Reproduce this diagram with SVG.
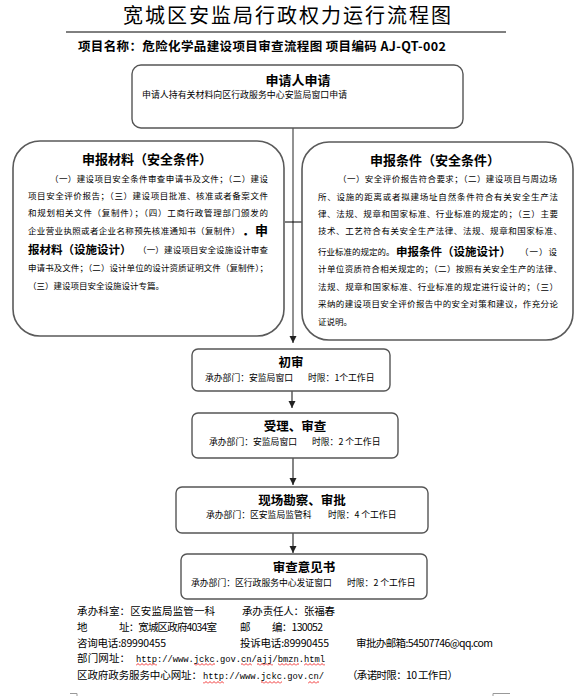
<svg xmlns="http://www.w3.org/2000/svg" width="581" height="696" viewBox="0 0 581 696">
<style>
text{font-family:"Noto Sans CJK SC","Liberation Sans",sans-serif;fill:#000}
.box{fill:#fff;stroke:#555;stroke-width:1.4}
.big{fill:#fff;stroke:#5a5a5a;stroke-width:1.6}
.t{font-size:8.5px}
.h{font-size:12.5px;font-weight:bold}
.hb{font-size:13px;font-weight:bold}
.ib{font-size:11.5px;font-weight:bold}
.s{font-size:8.8px}
.f{font-size:10.5px}
.u{font-family:"Liberation Mono",monospace;font-size:8.8px}
.arr{stroke:#333;stroke-width:1.2;fill:none;marker-end:url(#ah)}
.mark{stroke:#999;stroke-width:1;fill:none}
.wv{fill:url(#wave)}
</style>
<defs>
<marker id="ah" markerUnits="userSpaceOnUse" markerWidth="8" markerHeight="8" refX="7" refY="3.5" orient="auto">
<path d="M0,0 L7,3.5 L0,7 z" fill="#222"/>
</marker>
<pattern id="wave" patternUnits="userSpaceOnUse" width="4" height="3">
<path d="M0,2.5 L2,0.5 L4,2.5" stroke="#e00" stroke-width="0.8" fill="none"/>
</pattern>
</defs>
<rect width="581" height="696" fill="#fff"/>

<g id="header">
<text x="123" y="23" font-size="20" textLength="328" lengthAdjust="spacing">宽城区安监局行政权力运行流程图</text>
<line x1="66" y1="32" x2="506" y2="32" stroke="#000" stroke-width="1"/>
<text x="78" y="51" font-size="12.5" font-weight="bold" textLength="368" lengthAdjust="spacing">项目名称：危险化学品建设项目审查流程图 项目编码 AJ-QT-002</text>
</g>

<g id="connectors">
<line x1="293" y1="128" x2="293" y2="343" stroke="#777" stroke-width="1.6" marker-end="url(#ah)"/>
<line x1="285" y1="222" x2="302" y2="222" stroke="#000" stroke-width="1"/>
<line class="arr" x1="292" y1="391" x2="292" y2="408"/>
<line class="arr" x1="293" y1="458" x2="293" y2="485"/>
<line class="arr" x1="293" y1="533" x2="293" y2="553"/>
</g>

<g id="node-apply">
<rect class="box" x="132" y="65" width="331" height="63" rx="9"/>
<text class="hb" x="298" y="85" text-anchor="middle">申请人申请</text>
<text x="142" y="98" font-size="8.9" textLength="205" lengthAdjust="spacing">申请人持有关材料向区行政服务中心安监局窗口申请</text>
</g>

<g id="node-materials">
<rect class="big" x="13" y="141" width="271" height="195" rx="27"/>
<text class="hb" x="147" y="164" text-anchor="middle">申报材料（安全条件）</text>
<text class="t" x="50" y="182" textLength="218" lengthAdjust="spacing">（一）建设项目安全条件审查申请书及文件；（二）建设</text>
<text class="t" x="28" y="199" textLength="240" lengthAdjust="spacing">项目安全评价报告；（三）建设项目批准、核准或者备案文件</text>
<text class="t" x="28" y="216" textLength="240" lengthAdjust="spacing">和规划相关文件（复制件）；（四）工商行政管理部门颁发的</text>
<text class="t" x="28" y="234" textLength="212" lengthAdjust="spacing">企业营业执照或者企业名称预先核准通知书（复制件）</text>
<text class="hb" x="242" y="235">．申</text>
<text class="ib" x="28" y="254">报材料（设施设计）</text>
<text class="t" x="138" y="253" textLength="130" lengthAdjust="spacing">（一）建设项目安全设施设计审查</text>
<text class="t" x="28" y="271" textLength="240" lengthAdjust="spacing">申请书及文件；（二）设计单位的设计资质证明文件（复制件）；</text>
<text class="t" x="28" y="289">（三）建设项目安全设施设计专篇。</text>
</g>

<g id="node-conditions">
<rect class="big" x="302" y="142" width="271" height="198" rx="27"/>
<text class="hb" x="435" y="165" text-anchor="middle">申报条件（安全条件）</text>
<text class="t" x="338" y="182" textLength="219" lengthAdjust="spacing">（一）安全评价报告符合要求；（二）建设项目与周边场</text>
<text class="t" x="318" y="200" textLength="240" lengthAdjust="spacing">所、设施的距离或者拟建场址自然条件符合有关安全生产法</text>
<text class="t" x="318" y="217" textLength="240" lengthAdjust="spacing">律、法规、规章和国家标准、行业标准的规定的；（三）主要</text>
<text class="t" x="318" y="234" textLength="244" lengthAdjust="spacing">技术、工艺符合有关安全生产法律、法规、规章和国家标准、</text>
<text class="t" x="318" y="255">行业标准的规定的。</text>
<text class="ib" x="396" y="256" font-size="11.7">申报条件（设施设计）</text>
<text class="t" x="520" y="255" textLength="37" lengthAdjust="spacing">（一）设</text>
<text class="t" x="318" y="272" textLength="244" lengthAdjust="spacing">计单位资质符合相关规定的；（二）按照有关安全生产的法律、</text>
<text class="t" x="318" y="290" textLength="240" lengthAdjust="spacing">法规、规章和国家标准、行业标准的规定进行设计的；（三）</text>
<text class="t" x="318" y="307" textLength="240" lengthAdjust="spacing">采纳的建设项目安全评价报告中的安全对策和建议，作充分论</text>
<text class="t" x="318" y="325">证说明。</text>
</g>

<g id="node-first-review">
<rect class="box" x="192" y="349" width="198" height="42" rx="6"/>
<text class="h" x="291" y="367" text-anchor="middle">初审</text>
<text class="s" x="205" y="381">承办部门：安监局窗口</text>
<text class="s" x="308" y="381">时限：1个工作日</text>
</g>

<g id="node-accept">
<rect class="box" x="192" y="413" width="206" height="45" rx="6"/>
<text class="h" x="295" y="431" text-anchor="middle">受理、审查</text>
<text class="s" x="209" y="445">承办部门：安监局窗口</text>
<text class="s" x="312" y="445">时限：2 个工作日</text>
</g>

<g id="node-inspect">
<rect class="box" x="176" y="487" width="252" height="46" rx="6"/>
<text class="h" x="302" y="505" text-anchor="middle">现场勘察、审批</text>
<text class="s" x="206" y="518">承办部门：区安监局监管科</text>
<text class="s" x="328" y="518">时限：4 个工作日</text>
</g>

<g id="node-opinion">
<rect class="box" x="181" y="554" width="246" height="45" rx="6"/>
<text class="h" x="304" y="572" text-anchor="middle">审查意见书</text>
<text class="s" x="191" y="586">承办部门：区行政服务中心发证窗口</text>
<text class="s" x="347" y="586">时限：2 个工作日</text>
</g>

<g id="footer">
<text class="f" x="77" y="615" textLength="138" lengthAdjust="spacing">承办科室：区安监局监管一科</text>
<text class="f" x="242" y="615" textLength="93" lengthAdjust="spacing">承办责任人：张福春</text>
<text class="f" x="77" y="631">地</text>
<text class="f" x="119" y="631" textLength="98" lengthAdjust="spacing">址：宽城区政府4034室</text>
<text class="f" x="240" y="631">邮</text>
<text class="f" x="272" y="631" textLength="51" lengthAdjust="spacing">编：130052</text>
<text class="f" x="77" y="647" textLength="89" lengthAdjust="spacing">咨询电话:89990455</text>
<text class="f" x="240" y="647" textLength="89" lengthAdjust="spacing">投诉电话:89990455</text>
<text class="f" x="356" y="647" textLength="137" lengthAdjust="spacing">审批办邮箱:54507746@qq.com</text>
<text class="f" x="77" y="662" textLength="53" lengthAdjust="spacing">部门网址：</text>
<text class="u" x="136" y="662" textLength="189" lengthAdjust="spacing">http://www.jckc.gov.cn/ajj/bmzn.html</text>
<text class="f" x="77" y="679" textLength="125" lengthAdjust="spacing">区政府政务服务中心网址：</text>
<text class="u" x="203" y="679" textLength="121" lengthAdjust="spacing">http://www.jckc.gov.cn/</text>
<text class="f" x="347" y="679" textLength="111" lengthAdjust="spacing">（承诺时限：10 工作日）</text>
<rect class="wv" x="136" y="663" width="21" height="3"/>
<rect class="wv" x="194" y="663" width="21" height="3"/>
<rect class="wv" x="241" y="663" width="11" height="3"/>
<rect class="wv" x="257" y="663" width="16" height="3"/>
<rect class="wv" x="278" y="663" width="21" height="3"/>
<rect class="wv" x="304" y="663" width="21" height="3"/>
<rect class="wv" x="203" y="681" width="21" height="3"/>
<rect class="wv" x="261" y="681" width="21" height="3"/>
<rect class="wv" x="308" y="681" width="11" height="3"/>
<path class="mark" d="M70,693.5 H77 V696"/>
<path class="mark" d="M493,696 V693.5 H510"/>
</g>
</svg>
